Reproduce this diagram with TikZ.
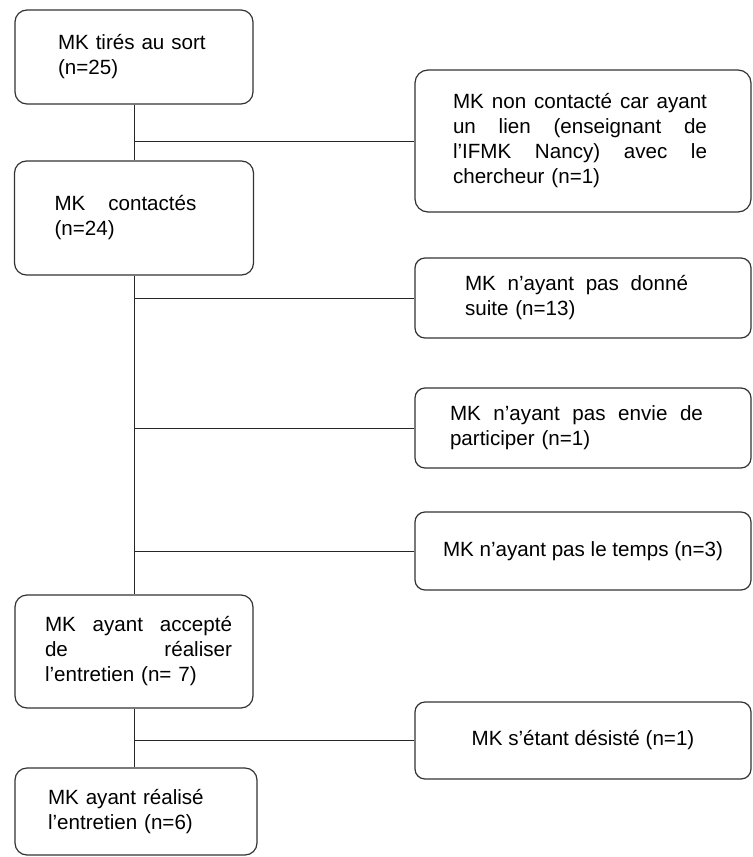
\documentclass[tikz,border=0pt]{standalone}
\usepackage{fontspec}
\setmainfont{Liberation Sans}
\begin{document}
\begin{tikzpicture}[
		x={(0.5pt,0pt)},
		y={(0pt,-0.5pt)},
		box/.style={draw=black!80,line width=0.6pt,rounded corners=6pt,align=left,inner sep=0pt,font=\fontsize{10.3}{12.5}\selectfont},
		side/.style={box,rounded corners=5pt,minimum width=168pt,minimum height=40pt},
		link/.style={draw=black!85,line width=0.5pt},
	]
		\useasboundingbox (0,0) rectangle (752,857);
		
		\node[box,minimum width=119pt,minimum height=47pt,text width=76pt] (tires) at (134,57) {MK tirés au sort\\(n=25)};
		\node[box,minimum width=119.5pt,minimum height=57pt,text width=79.5pt] (contactes) at (134,218) {\makebox[71pt]{MK\hfill contactés}\\(n=24)};
		\node[box,minimum width=119pt,minimum height=56.5pt,text width=89pt] (accepte) at (134,651.5) {\makebox[93.5pt]{MK\hfill ayant\hfill accepté}\\\makebox[93.5pt]{de\hfill réaliser}\\l’entretien (n= 7)};
		\node[box,minimum width=121pt,minimum height=43.5pt,text width=88pt] (realise) at (136,811.5) {MK ayant réalisé\\l’entretien (n=6)};
		
		\node[side,rounded corners=6.5pt,minimum height=71pt,text width=130pt] (noncontact) at (583,141) {\makebox[127pt]{MK\hfill non\hfill contacté\hfill car\hfill ayant}\\\makebox[127pt]{un\hfill lien\hfill (enseignant\hfill de}\\\makebox[127pt]{l’IFMK\hfill Nancy)\hfill avec\hfill le}\\chercheur (n=1)};
		\node[side,text width=118pt] (suite) at (583,298) {\makebox[111.5pt]{MK\hfill n’ayant\hfill pas\hfill donné}\\suite (n=13)};
		\node[side,text width=133pt] (envie) at (583,428) {\makebox[126.5pt]{MK\hfill n’ayant\hfill pas\hfill envie\hfill de}\\participer (n=1)};
		\node[side,minimum height=39pt] (temps) at (583,551) {MK n’ayant pas le temps (n=3)};
		\node[side,minimum height=38.5pt] (desiste) at (583,740.5) {MK s’étant désisté (n=1)};
		
		\draw[link] (tires.south) -- (tires.south |- contactes.north);
		\draw[link] (noncontact.west) -- (noncontact.west -| tires.south);
		\draw[link] (contactes.south) -- (contactes.south |- accepte.north);
		\foreach \r in {suite,envie,temps}{
			\draw[link] (\r.west) -- (\r.west -| contactes.south);
		}
		\draw[link] (accepte.south) -- (accepte.south |- realise.north);
		\draw[link] (desiste.west) -- (desiste.west -| accepte.south);
	\end{tikzpicture}
\end{document}
